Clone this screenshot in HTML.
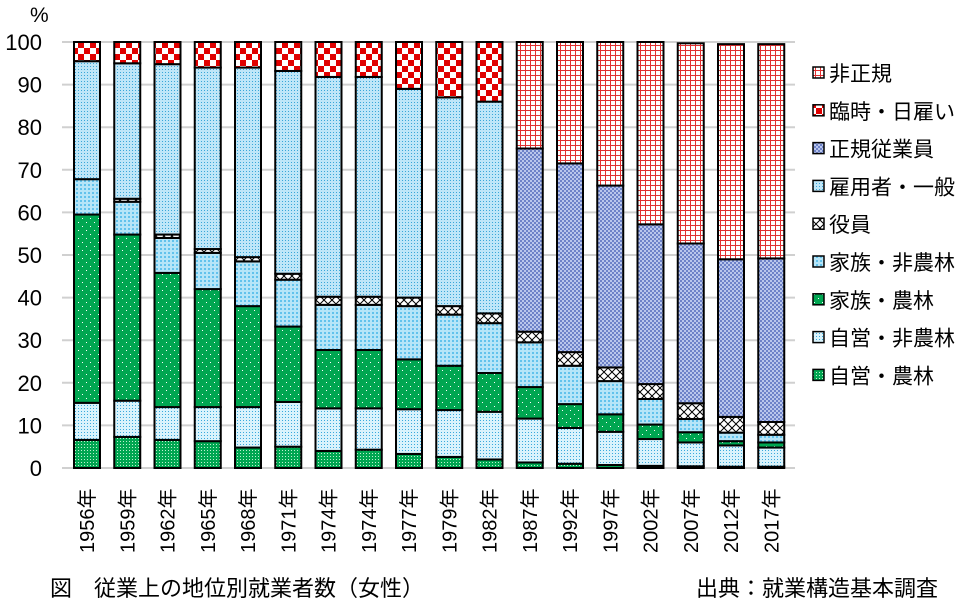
<!DOCTYPE html>
<html><head><meta charset="utf-8"><style>
body{margin:0;background:#fff;width:972px;height:607px;overflow:hidden}
svg text{font-family:"Liberation Sans","Noto Sans CJK JP",sans-serif}
</style></head><body>
<svg id="s" width="972" height="607" xmlns="http://www.w3.org/2000/svg">
<defs>
<pattern id="p0" width="3" height="3" patternUnits="userSpaceOnUse"><rect width="3" height="3" fill="#00a651"/><rect width="1" height="1" fill="#bff0cf"/></pattern>
<pattern id="p1" width="3" height="3" patternUnits="userSpaceOnUse"><rect width="3" height="3" fill="#d9f3fc"/><rect width="1" height="1" fill="#39a9dc"/></pattern>
<pattern id="p2" width="8" height="8" patternUnits="userSpaceOnUse"><rect width="8" height="8" fill="#00a651"/><rect x="2" y="2" width="1" height="1" fill="#fff"/><rect x="6" y="6" width="1" height="1" fill="#fff"/></pattern>
<pattern id="p3" width="4" height="4" patternUnits="userSpaceOnUse"><rect width="4" height="4" fill="#b6e5f8"/><rect width="2" height="2" fill="#62c2ec"/></pattern>
<pattern id="p4" width="8" height="8" patternUnits="userSpaceOnUse"><rect width="8" height="8" fill="#fff"/><path d="M0 0L8 8M8 0L0 8" stroke="#000" stroke-width="1"/></pattern>
<pattern id="p5" width="3" height="3" patternUnits="userSpaceOnUse"><rect width="3" height="3" fill="#bfe6f8"/><rect width="1" height="1" fill="#3aa6d8"/></pattern>
<pattern id="p6" width="4" height="4" patternUnits="userSpaceOnUse"><rect width="4" height="4" fill="#b9c6ec"/><rect width="2" height="2" fill="#6d82c8"/><rect x="2" y="2" width="2" height="2" fill="#6d82c8"/></pattern>
<pattern id="p7" width="12" height="12" patternUnits="userSpaceOnUse"><rect width="12" height="12" fill="#fff"/><rect width="6" height="6" fill="#e00000"/><rect x="6" y="6" width="6" height="6" fill="#e00000"/></pattern>
<pattern id="p8" width="5" height="5" patternUnits="userSpaceOnUse"><rect width="5" height="5" fill="#fff"/><path d="M0 0.5H5M0.5 0V5" stroke="#e03030" stroke-width="1"/></pattern>
</defs>
</svg>
<script>
var s=document.getElementById('s'),NS='http://www.w3.org/2000/svg';
function el(t,a,txt){var e=document.createElementNS(NS,t);for(var k in a)e.setAttribute(k,a[k]);if(txt!=null)e.textContent=txt;s.appendChild(e);return e;}
var Y=function(v){return 468-v*4.26;};
for(var i=0;i<=10;i++){var y=Y(i*10);el('line',{x1:62,x2:795,y1:y,y2:y,stroke:'#d0d0d0','stroke-width':2});
el('text',{x:42,y:y+8,'text-anchor':'end','font-size':22},String(i*10));}
el('text',{x:30,y:22,'font-size':21},'%');
var yrs=['1956','1959','1962','1965','1968','1971','1974','1974','1977','1979','1982','1987','1992','1997','2002','2007','2012','2017'];
var d=[[6.6,15.3,59.5,67.8,67.8,95.5,100],[7.3,15.8,54.8,62.5,63.2,95,100],[6.6,14.3,45.8,54,54.8,94.8,100],[6.3,14.3,42,50.5,51.4,94,100],[4.8,14.3,38,48.5,49.5,94,100],[5,15.5,33.2,44.2,45.6,93.2,100],[4,14,27.7,38.3,40.2,91.8,100],[4.3,14,27.7,38.3,40.2,91.8,100],[3.3,13.8,25.5,38,40,89,100],[2.6,13.6,24,36,38,87,100],[2,13.2,22.3,34,36.3,86,100],
[1.3,11.6,19,29.5,32,75,100],[1,9.4,15,24,27.2,71.5,100],[0.7,8.5,12.6,20.4,23.6,66.3,100],[0.5,6.8,10.2,16.2,19.7,57.2,100],[0.4,6,8.4,11.5,15.2,52.7,99.7],[0.3,5.3,6.3,8.3,12,49,99.5],[0.3,4.8,6,7.8,10.8,49.2,99.5]];
for(var b=0;b<18;b++){var x=74+b*40.25,prev=0,r=d[b];
 for(var j=0;j<7;j++){var f='p'+j;if(j==6)f='p7';if(b>=11){if(j==5)f='p6';if(j==6)f='p8';}
  el('rect',{x:x,y:Y(r[j]),width:26,height:Y(prev)-Y(r[j]),fill:'url(#'+f+')',stroke:'#000','stroke-width':2});prev=r[j];}
 el('text',{x:0,y:0,'font-size':20,transform:'translate('+(x+20)+',553) rotate(-90)'},yrs[b]+'年');}
var lg=[['非正規','p8'],['臨時・日雇い','p7'],['正規従業員','p6'],['雇用者・一般','p5'],['役員','p4'],['家族・非農林','p3'],['家族・農林','p2'],['自営・非農林','p1'],['自営・農林','p0']];
for(var i=0;i<9;i++){var y=73+i*37.8;el('rect',{x:813,y:y-6,width:11,height:11,fill:'url(#'+lg[i][1]+')',stroke:'#000','stroke-width':1.5});
el('text',{x:829,y:y+8,'font-size':21},lg[i][0]);}
el('text',{x:50,y:596,'font-size':22,style:'font-family:"Noto Sans CJK JP",sans-serif'},'図　従業上の地位別就業者数（女性）');
el('text',{x:938,y:596,'font-size':22,'text-anchor':'end',style:'font-family:"Noto Sans CJK JP",sans-serif'},'出典：就業構造基本調査');
</script>
</body></html>
